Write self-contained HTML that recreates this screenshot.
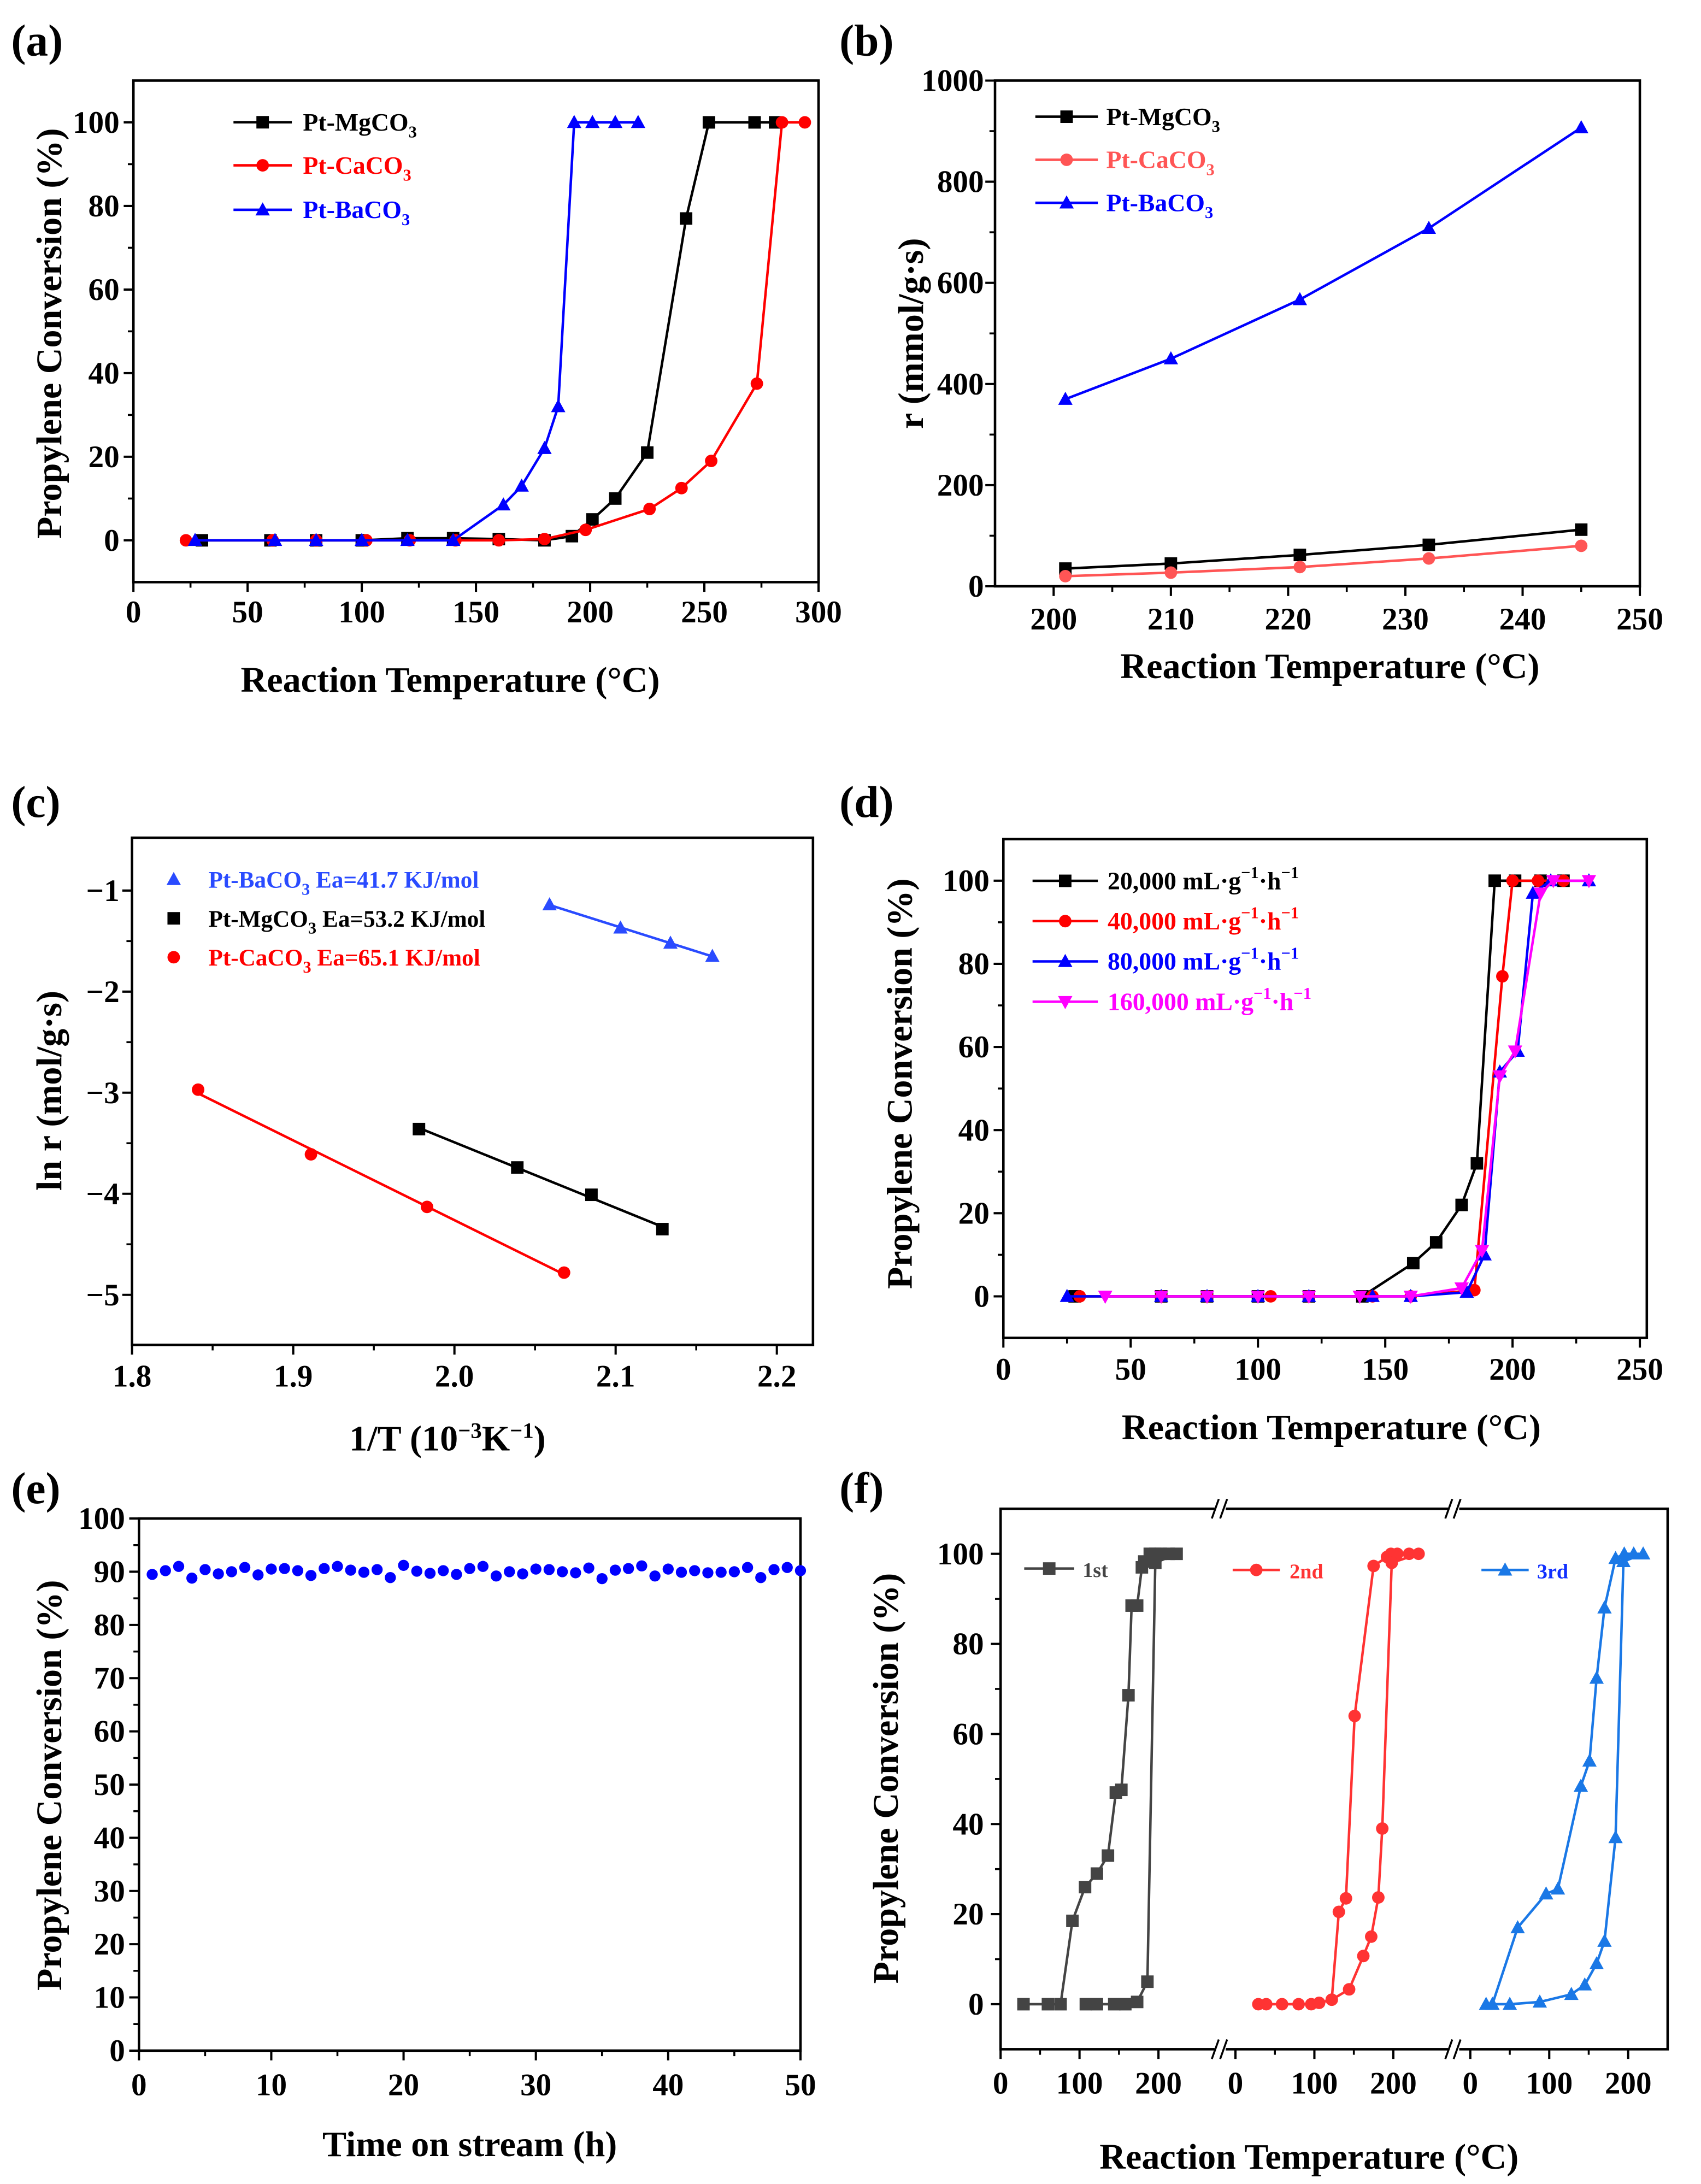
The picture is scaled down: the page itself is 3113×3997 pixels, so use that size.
<!DOCTYPE html>
<html><head><meta charset="utf-8"><style>
html,body{margin:0;padding:0;background:#fff}
svg{display:block}
text{font-family:"Liberation Serif",serif;font-weight:bold}
</style></head><body>
<svg id="fig" xmlns="http://www.w3.org/2000/svg" width="3113" height="3997" viewBox="0 0 1224 1572" preserveAspectRatio="none">
<rect width="1224" height="1572" fill="#fff"/>
<text x="8" y="40" font-size="32">(a)</text>
<text x="604" y="40" font-size="32">(b)</text>
<text x="8" y="588" font-size="32">(c)</text>
<text x="604" y="588" font-size="32">(d)</text>
<text x="8" y="1082" font-size="32">(e)</text>
<text x="604" y="1082" font-size="32">(f)</text>

<text x="324" y="498" font-size="26" text-anchor="middle">Reaction Temperature (°C)</text>
<text transform="translate(44,240) rotate(-90)" font-size="26" text-anchor="middle">Propylene Conversion (%)</text>
<text x="957" y="488" font-size="26" text-anchor="middle">Reaction Temperature (°C)</text>
<text transform="translate(664,240) rotate(-90)" font-size="26" text-anchor="middle">r (mmol/g·s)</text>
<text x="322" y="1044" font-size="26" text-anchor="middle">1/T (10<tspan font-size="16" dy="-9">−3</tspan><tspan dy="9">K</tspan><tspan font-size="16" dy="-9">−1</tspan><tspan dy="9">)</tspan></text>
<text transform="translate(44,785) rotate(-90)" font-size="26" text-anchor="middle">ln r (mol/g·s)</text>
<text x="958" y="1036" font-size="26" text-anchor="middle">Reaction Temperature (°C)</text>
<text transform="translate(656,780) rotate(-90)" font-size="26" text-anchor="middle">Propylene Conversion (%)</text>
<text x="338" y="1552" font-size="26" text-anchor="middle">Time on stream (h)</text>
<text transform="translate(44,1285) rotate(-90)" font-size="26" text-anchor="middle">Propylene Conversion (%)</text>
<text x="942" y="1561" font-size="26" text-anchor="middle">Reaction Temperature (°C)</text>
<text transform="translate(646,1280) rotate(-90)" font-size="26" text-anchor="middle">Propylene Conversion (%)</text>
</svg>
<script>
// ---- data arrays ----
// (a)
const aMgX=[30,60,80,100,120,140,160,180,192,201,211,225,242,252,272,281];
const aMgY=[0,0,0,0,0.5,0.5,0.3,0,1,5,10,21,77,100,100,100];
const aCaX=[23,61,80,102,121,141,160,180,198,226,240,253,273,284,294];
const aCaY=[0,0,0,0,0,0,0,0.3,2.5,7.5,12.5,19,37.5,100,100];
const aBaX=[27,62,80,100,120,140,162,170,180,186,193,201,211,221];
const aBaY=[0,0,0,0,0,0,8.5,13,22,32,100,100,100,100];
const aXTicks=[0,50,100,150,200,250,300];
const aYTicks=[0,20,40,60,80,100];
// (b)
const bX=[201,210,221,232,245];
const bBa=[370,450,567,708,907];
const bMg=[35,45,62,82,112];
const bCa=[20,27,38,55,80];
const bXTicks=[200,210,220,230,240,250];
const bYTicks=[0,200,400,600,800,1000];
// (c)
const cBaX=[2.059,2.103,2.134,2.160];
const cBaY=[-1.14,-1.37,-1.52,-1.65];
const cMgX=[1.978,2.039,2.085,2.129];
const cMgY=[-3.36,-3.74,-4.01,-4.35];
const cCaX=[1.841,1.911,1.983,2.068];
const cCaY=[-2.97,-3.61,-4.13,-4.78];
const cXTicks=[1.8,1.9,2.0,2.1,2.2];
const cYTicks=[-1,-2,-3,-4,-5];
// (d)
const d20X=[28,62,80,100,120,141,161,170,180,186,193,201,211,220];
const d20Y=[0,0,0,0,0,0,8,13,22,32,100,100,100,100];
const d40X=[30,62,80,105,120,145,160,185,196,200,210,220];
const d40Y=[0,0,0,0,0,0,0,1.5,77,100,100,100];
const d80X=[25,62,80,100,120,145,160,182,189,195,202,208,215,230];
const d80Y=[0,0,0,0,0,0,0,1,10,54,59,97,100,100];
const d160X=[40,62,80,100,120,140,160,180,188,195,201,211,216,230];
const d160Y=[0,0,0,0,0,0,0,2,11,53,59,97,100,100];
const dXTicks=[0,50,100,150,200,250];
const dYTicks=[0,20,40,60,80,100];
// (e)
const eY=[89.5,90.2,91.0,88.8,90.4,89.6,90.0,90.8,89.4,90.5,90.6,90.2,89.3,90.6,91.0,90.3,89.9,90.4,88.9,91.2,90.1,89.7,90.2,89.5,90.6,91.0,89.2,90.0,89.6,90.5,90.4,90.0,89.8,90.7,88.7,90.3,90.6,91.1,89.2,90.5,89.9,90.2,89.8,89.9,90.0,90.8,88.9,90.4,90.8,90.2];
const eXTicks=[0,10,20,30,40,50];
const eYTicks=[0,10,20,30,40,50,60,70,80,90,100];
// (f)
const f1X=[29,60,76,91,107,122,136,146,153,162,166,173,179,182,189,196,203,213,223,196,186,173,158,144,122,108];
const f1Y=[0,0,0,18.5,26,29,33,47,47.6,68.6,88.5,88.5,97,98.3,100,100,100,100,100,98,5,0.5,0,0,0,0];
const f2X=[29,39,59,80,96,106,122,131,140,151,175,192,197,205,220,232,198,186,181,172,162,144,122];
const f2Y=[0,0,0,0,0,0.3,1,20.5,23.5,64,97.3,99.3,100,100,100,100,98,39,23.7,15,10.7,3.3,1];
const f3X=[20,28,60,96,111,140,151,160,170,184,195,207,219,194,184,170,160,145,128,88,50,28];
const f3Y=[0,0,17,24.5,25.6,48.4,54,72.4,88,99,100,100,100,98.3,37,14,9,4.3,2.2,0.5,0,0];
const fXTicks=[0,100,200];
const fYTicks=[0,20,40,60,80,100];

// ---- helpers ----
const NS="http://www.w3.org/2000/svg";
const svg=document.getElementById('fig');
function mk(tag,attrs,parent){const e=document.createElementNS(NS,tag);for(const k in attrs)e.setAttribute(k,attrs[k]);(parent||svg).appendChild(e);return e;}
function lin(d0,d1,r0,r1){return v=>r0+(v-d0)/(d1-d0)*(r1-r0);}
function fmt(v){return v<0?'−'+Math.abs(v):String(v);}
function frame(name,x0,x1,y0,y1){
  const r=mk('rect',{x:x0,y:y0,width:x1-x0,height:y1-y0,fill:'none',stroke:'#000','stroke-width':1.8});
  
  
}
function xAxis(name,sx,ticks,yb,labY,dec,minorStep){
  const g=mk('g',{});
  
  
  ticks.forEach(t=>{const x=sx(t);mk('line',{x1:x,x2:x,y1:yb,y2:yb+7,stroke:'#000','stroke-width':1.6},g);
    const tx=mk('text',{x:x,y:labY,'font-size':22.5,'text-anchor':'middle'},g);tx.textContent=dec?t.toFixed(dec):fmt(t);});
  if(minorStep){for(let i=0;i<ticks.length-1;i++){const m=(ticks[i]+ticks[i+1])/2;const x=sx(m);mk('line',{x1:x,x2:x,y1:yb,y2:yb+4,stroke:'#000','stroke-width':1.4},g);}}
}
function yAxis(name,sy,ticks,xl,labX,minor){
  const g=mk('g',{});
  
  
  ticks.forEach(t=>{const y=sy(t);mk('line',{x1:xl,x2:xl-7,y1:y,y2:y,stroke:'#000','stroke-width':1.6},g);
    const tx=mk('text',{x:labX,y:y+7.5,'font-size':22.5,'text-anchor':'end'},g);tx.textContent=fmt(t);});
  if(minor){for(let i=0;i<ticks.length-1;i++){const m=(ticks[i]+ticks[i+1])/2;const y=sy(m);mk('line',{x1:xl,x2:xl-4,y1:y,y2:y,stroke:'#000','stroke-width':1.4},g);}}
}
function marker(g,type,x,y,c,s){
  s=s||4.5;
  if(type==='sq')mk('rect',{x:x-s,y:y-s,width:2*s,height:2*s,fill:c},g);
  else if(type==='ci')mk('circle',{cx:x,cy:y,r:s,fill:c},g);
  else if(type==='tr')mk('polygon',{points:`${x},${y-s*1.2} ${x-s*1.15},${y+s*0.9} ${x+s*1.15},${y+s*0.9}`,fill:c},g);
  else if(type==='it')mk('polygon',{points:`${x},${y+s*1.2} ${x-s*1.15},${y-s*0.9} ${x+s*1.15},${y-s*0.9}`,fill:c},g);
}
function series(name,xs,ys,sx,sy,c,type,noLine,ms){
  const g=mk('g',{});
  
  
  if(!noLine){mk('polyline',{points:xs.map((v,i)=>sx(v)+','+sy(ys[i])).join(' '),fill:'none',stroke:c,'stroke-width':1.8},g);}
  xs.forEach((v,i)=>marker(g,type,sx(v),sy(ys[i]),c,ms));
  return g;
}
function legend(name,x1,x2,y,c,type,tx,parts,fs){
  const g=mk('g',{});
  
  
  if(x2>x1)mk('line',{x1:x1,x2:x2,y1:y,y2:y,stroke:c,'stroke-width':1.8},g);
  marker(g,type,(x1+x2)/2,y,c,4.5);
  const t=mk('text',{x:tx,y:y+6,'font-size':fs||18,fill:c},g);
  parts.forEach(p=>{const s=mk('tspan',{},t);if(p.sub){s.setAttribute('font-size',12);s.setAttribute('dy',5);}else if(p.sup){s.setAttribute('font-size',12);s.setAttribute('dy',-8);}else if(p.reset){s.setAttribute('dy',p.reset);}
    if(p.fill)s.setAttribute('fill',p.fill);s.textContent=p.t;});
}

// ---- panel a ----
{const sx=lin(0,300,96,589), sy=lin(-10,110,419,58);
frame('panel-a',96,589,58,419);
xAxis('panel-a',sx,aXTicks,419,448,0,true);
yAxis('panel-a',sy,aYTicks,96,86,true);
series('series-a-mgco3',aMgX,aMgY,sx,sy,'#000','sq');
series('series-a-caco3',aCaX,aCaY,sx,sy,'#f00','ci');
series('series-a-baco3',aBaX,aBaY,sx,sy,'#00f','tr');
legend('legend-a-mgco3',168,210,88,'#000','sq',218,[{t:'Pt-MgCO'},{t:'3',sub:1}]);
legend('legend-a-caco3',168,210,119,'#f00','ci',218,[{t:'Pt-CaCO'},{t:'3',sub:1}]);
legend('legend-a-baco3',168,210,151,'#00f','tr',218,[{t:'Pt-BaCO'},{t:'3',sub:1}]);}

// ---- panel b ----
{const sx=lin(195,250,716,1180), sy=lin(0,1000,422,58);
frame('panel-b',716,1180,58,422);
xAxis('panel-b',sx,bXTicks,422,453,0,true);
yAxis('panel-b',sy,bYTicks,716,708,true);
series('series-b-baco3',bX,bBa,sx,sy,'#00f','tr');
series('series-b-mgco3',bX,bMg,sx,sy,'#000','sq');
series('series-b-caco3',bX,bCa,sx,sy,'#f55','ci');
legend('legend-b-mgco3',745,790,84,'#000','sq',796,[{t:'Pt-MgCO'},{t:'3',sub:1}]);
legend('legend-b-caco3',745,790,115,'#f55','ci',796,[{t:'Pt-CaCO'},{t:'3',sub:1}]);
legend('legend-b-baco3',745,790,146,'#00f','tr',796,[{t:'Pt-BaCO'},{t:'3',sub:1}]);}

// ---- panel c ----
{const sx=lin(1.8,2.2,95,559), sy=lin(-1,-5,641,932);
frame('panel-c',95,585,603,968);
xAxis('panel-c',sx,cXTicks,968,998,1,true);
yAxis('panel-c',sy,cYTicks,95,86,true);
function fitLine(name,xs,ys,c){const n=xs.length;let mx=0,my=0;xs.forEach((v,i)=>{mx+=v;my+=ys[i];});mx/=n;my/=n;let sxy=0,sxx=0;xs.forEach((v,i)=>{sxy+=(v-mx)*(ys[i]-my);sxx+=(v-mx)*(v-mx);});const b=sxy/sxx;
  const l=mk('line',{x1:sx(xs[0]),y1:sy(my+b*(xs[0]-mx)),x2:sx(xs[n-1]),y2:sy(my+b*(xs[n-1]-mx)),stroke:c,'stroke-width':1.8});
  
  }
fitLine('fit-c-baco3',cBaX,cBaY,'#2a4bff');fitLine('fit-c-mgco3',cMgX,cMgY,'#000');fitLine('fit-c-caco3',cCaX,cCaY,'#f00');
series('series-c-baco3',cBaX,cBaY,sx,sy,'#2a4bff','tr',true);
series('series-c-mgco3',cMgX,cMgY,sx,sy,'#000','sq',true);
series('series-c-caco3',cCaX,cCaY,sx,sy,'#f00','ci',true);
legend('legend-c-baco3',125,125,633,'#2a4bff','tr',150,[{t:'Pt-BaCO'},{t:'3',sub:1},{t:'   Ea=41.7 KJ/mol',reset:-5}],17);
legend('legend-c-mgco3',125,125,661,'#000','sq',150,[{t:'Pt-MgCO'},{t:'3',sub:1},{t:'  Ea=53.2 KJ/mol',reset:-5}],17);
legend('legend-c-caco3',125,125,689,'#f00','ci',150,[{t:'Pt-CaCO'},{t:'3',sub:1},{t:'  Ea=65.1 KJ/mol',reset:-5}],17);}

// ---- panel d ----
{const sx=lin(0,250,722,1180), sy=lin(-10,110,963,604);
frame('panel-d',722,1185,604,963);
xAxis('panel-d',sx,dXTicks,963,993,0,true);
yAxis('panel-d',sy,dYTicks,722,712,true);
series('series-d-20000',d20X,d20Y,sx,sy,'#000','sq');
series('series-d-40000',d40X,d40Y,sx,sy,'#f00','ci');
series('series-d-80000',d80X,d80Y,sx,sy,'#00f','tr');
series('series-d-160000',d160X,d160Y,sx,sy,'#f0f','it');
const lp=(s)=>[{t:s+' mL·g'},{t:'−1',sup:1},{t:'·h',reset:8},{t:'−1',sup:1}];
legend('legend-d-20000',743,790,634,'#000','sq',797,lp('20,000'));
legend('legend-d-40000',743,790,663,'#f00','ci',797,lp('40,000'));
legend('legend-d-80000',743,790,692,'#00f','tr',797,lp('80,000'));
legend('legend-d-160000',743,790,721,'#f0f','it',797,lp('160,000'));}

// ---- panel e ----
{const sx=lin(0,50,100,576), sy=lin(0,100,1476,1093);
frame('panel-e',100,576,1093,1476);
xAxis('panel-e',sx,eXTicks,1476,1508,0,true);
yAxis('panel-e',sy,eYTicks,100,90,true);
const ex=eY.map((v,i)=>i+1);
series('series-e-stability',ex,eY,sx,sy,'#00f','ci',true,4);}

// ---- panel f ----
{const sy=lin(-10,110,1475,1086);
const fx0=720,fx1=1200,b1=878,b2=1046;
frame('panel-f',fx0,fx1,1086,1475);
yAxis('panel-f',sy,fYTicks,fx0,708,true);
const s1=lin(0,100,720,776.8), s2=lin(0,100,889,945.8), s3=lin(0,100,1058,1114.8);
[s1,s2,s3].forEach((s,k)=>xAxis('panel-f-seg'+(k+1),s,fXTicks,1475,1507,0,true));
// axis breaks
[b1,b2].forEach((bx,k)=>[1086,1475].forEach((yy,j)=>{const g=mk('g',{});
  
  
  mk('rect',{x:bx-4,y:yy-3,width:8,height:6,fill:'#fff'},g);
  mk('line',{x1:bx-6,y1:yy+7,x2:bx-1,y2:yy-7,stroke:'#000','stroke-width':1.4},g);
  mk('line',{x1:bx,y1:yy+7,x2:bx+5,y2:yy-7,stroke:'#000','stroke-width':1.4},g);}));
series('series-f-1st',f1X,f1Y,s1,sy,'#444','sq');
series('series-f-2nd',f2X,f2Y,s2,sy,'#f33','ci');
series('series-f-3rd',f3X,f3Y,s3,sy,'#1a78e6','tr');
legend('legend-f-1st',737,773,1129,'#444','sq',779,[{t:'1st'}],15);
legend('legend-f-2nd',887,921,1130,'#f33','ci',928,[{t:'2nd'}],15);
legend('legend-f-3rd',1066,1100,1130,'#1a78e6','tr',1106,[{t:'3rd',fill:'#1030ff'}],15);}
</script>
</body></html>
